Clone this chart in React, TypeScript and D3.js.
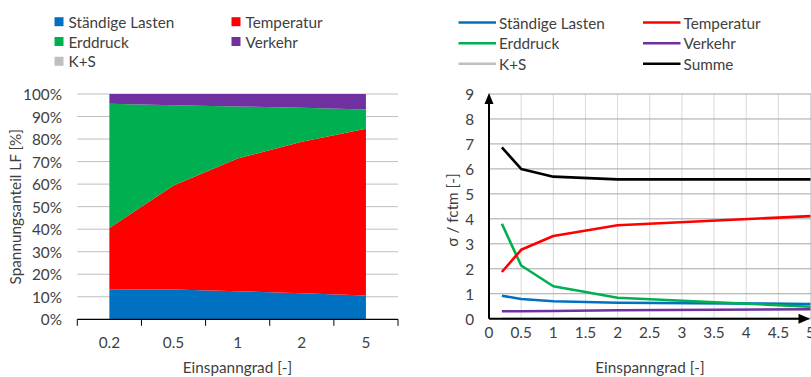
import React from "react";
import * as d3 from "d3";

const categories = ["0.2", "0.5", "1", "2", "5"];
const xValues = [0.2, 0.5, 1, 2, 5];
const staendigeLasten = [0.92, 0.79, 0.7, 0.64, 0.59];
const temperatur = [1.87, 2.76, 3.31, 3.74, 4.11];
const erddruck = [3.8, 2.13, 1.3, 0.84, 0.48];
const verkehr = [0.3, 0.3, 0.31, 0.34, 0.38];
const kUndS = [0, 0, 0, 0, 0];
const summe = [6.86, 6.0, 5.69, 5.58, 5.58];

const leftYTicks = [0, 0.1, 0.2, 0.3, 0.4, 0.5, 0.6, 0.7, 0.8, 0.9, 1.0];
const rightYTicks = [0, 1, 2, 3, 4, 5, 6, 7, 8, 9];
const rightXTicks = [0, 0.5, 1, 1.5, 2, 2.5, 3, 3.5, 4, 4.5, 5];

const seriesNames = ["Ständige Lasten", "Temperatur", "Erddruck", "Verkehr", "K+S"];
const colors = ["#0070C0", "#FF0000", "#00B050", "#7030A0", "#BFBFBF"];

const FONT = "Lato, Calibri, Carlito, sans-serif";
const FS = 15.3;

export default function App() {
  const W = 811, H = 377;
  const seriesData = [staendigeLasten, temperatur, erddruck, verkehr, kUndS];

  // LEFT chart
  const lx = d3.scaleBand<string>().domain(categories).range([77.3, 398]).padding(0);
  const ly = d3.scaleLinear().domain([0, 1]).range([319.3, 94]);
  const rows = categories.map((c, i) => {
    const r: any = { cat: c };
    seriesNames.forEach((n, k) => (r[n] = seriesData[k][i]));
    return r;
  });
  const stack = d3.stack<any>().keys(seriesNames).offset(d3.stackOffsetExpand);
  const stacked = stack(rows);
  const area = d3
    .area<any>()
    .x((d) => (lx(d.data.cat) as number) + lx.bandwidth() / 2)
    .y0((d) => ly(d[0]))
    .y1((d) => ly(d[1]));

  // RIGHT chart
  const rx = d3.scaleLinear().domain([0, 5]).range([489, 810.5]);
  const ry = d3.scaleLinear().domain([0, 9]).range([318.7, 94]);
  const line = d3
    .line<number>()
    .x((_, i) => rx(xValues[i]))
    .y((d) => ry(d));
  const rightSeries = [...seriesData, summe];
  const rightNames = [...seriesNames, "Summe"];
  const rightColors = [...colors, "#000000"];
  const drawOrder = [4, 3, 0, 2, 1, 5];

  const leftLegend = [
    { i: 0, x: 54.5, y: 21.7 },
    { i: 1, x: 231.5, y: 21.7 },
    { i: 2, x: 54.5, y: 41.5 },
    { i: 3, x: 231.5, y: 41.5 },
    { i: 4, x: 54.5, y: 61.3 },
  ];
  const rightLegend = [
    { i: 0, x: 458.5, y: 22.5 },
    { i: 1, x: 643, y: 22.5 },
    { i: 2, x: 458.5, y: 43.2 },
    { i: 3, x: 643, y: 43.2 },
    { i: 4, x: 458.5, y: 63.8 },
    { i: 5, x: 643, y: 63.8 },
  ];

  return (
    <svg width={W} height={H} style={{ position: "absolute", left: 0, top: 0, background: "#fff" }} fontFamily={FONT} fontSize={FS}>
      <rect x={0} y={0} width={W} height={H} fill="#fff" />
      {/* LEFT legend */}
      {leftLegend.map((l) => (
        <g key={"ll" + l.i}>
          <rect x={l.x} y={l.y - 4.5} width={9} height={9} fill={colors[l.i]} />
          <text x={l.x + 14} y={l.y} dominantBaseline="central" fill="#404040">
            {seriesNames[l.i]}
          </text>
        </g>
      ))}
      {/* LEFT grid */}
      {leftYTicks.slice(1).map((t) => (
        <line key={"lg" + t} x1={77.3} x2={398} y1={ly(t)} y2={ly(t)} stroke="#BFBFBF" strokeWidth={1} />
      ))}
      {stacked.map((s, k) => (
        <path key={"a" + k} d={area(s as any) || ""} fill={colors[k]} />
      ))}
      <line x1={77.3} x2={398} y1={ly(0)} y2={ly(0)} stroke="#000" strokeWidth={1.2} />
      {d3.range(categories.length + 1).map((i) => {
        const x = 77.3 + i * lx.bandwidth();
        return <line key={"lt" + i} x1={x} x2={x} y1={ly(0)} y2={ly(0) + 6.5} stroke="#000" strokeWidth={1} />;
      })}
      {leftYTicks.map((t) => (
        <text key={"lyt" + t} x={62} y={ly(t)} textAnchor="end" dominantBaseline="central" fill="#404040">
          {d3.format(".0%")(t)}
        </text>
      ))}
      {categories.map((c) => (
        <text key={"lxt" + c} x={(lx(c) as number) + lx.bandwidth() / 2} y={341.7} textAnchor="middle" dominantBaseline="central" fill="#404040">
          {c}
        </text>
      ))}
      <text x={237.5} y={367.3} textAnchor="middle" dominantBaseline="central" fill="#404040">
        Einspanngrad [-]
      </text>
      <text transform="translate(15,206.7) rotate(-90)" textAnchor="middle" dominantBaseline="central" fill="#404040">
        Spannungsanteil LF [%]
      </text>

      {/* RIGHT legend */}
      {rightLegend.map((l) => (
        <g key={"rl" + l.i}>
          <line x1={l.x} x2={l.x + 37.5} y1={l.y} y2={l.y} stroke={rightColors[l.i]} strokeWidth={2.5} />
          <text x={l.x + 40.5} y={l.y} dominantBaseline="central" fill="#404040">
            {rightNames[l.i]}
          </text>
        </g>
      ))}
      {/* RIGHT grid */}
      {rightXTicks.slice(1).map((t) => (
        <line key={"rvg" + t} x1={rx(t)} x2={rx(t)} y1={ry(9)} y2={ry(0)} stroke="#D9D9D9" strokeWidth={1} />
      ))}
      {rightYTicks.slice(1).map((t) => (
        <line key={"rhg" + t} x1={rx(0)} x2={W} y1={ry(t)} y2={ry(t)} stroke="#A6A6A6" strokeWidth={1} />
      ))}
      {drawOrder.map((k) => (
        <path key={"rl" + k} d={line(rightSeries[k]) || ""} fill="none" stroke={rightColors[k]} strokeWidth={2.6} strokeLinejoin="round" />
      ))}
      {/* axes with arrows */}
      <line x1={rx(0)} x2={rx(0)} y1={ry(0)} y2={ry(9) + 8} stroke="#000" strokeWidth={2} />
      <path d={`M${rx(0)},${ry(9) - 1} L${rx(0) - 4.5},${ry(9) + 10} L${rx(0) + 4.5},${ry(9) + 10} Z`} fill="#000" />
      <line x1={rx(0)} x2={800} y1={ry(0)} y2={ry(0)} stroke="#000" strokeWidth={2} />
      <path d={`M${rx(5) - 0.5},${ry(0)} L${rx(5) - 12},${ry(0) - 5} L${rx(5) - 12},${ry(0) + 5} Z`} fill="#000" />
      {rightYTicks.map((t) => (
        <text key={"ryt" + t} x={474} y={ry(t)} textAnchor="end" dominantBaseline="central" fill="#404040">
          {t}
        </text>
      ))}
      {rightXTicks.map((t) => (
        <text key={"rxt" + t} x={rx(t)} y={331.7} textAnchor="middle" dominantBaseline="central" fill="#404040">
          {String(t)}
        </text>
      ))}
      <text x={650} y={366.7} textAnchor="middle" dominantBaseline="central" fill="#404040">
        Einspanngrad [-]
      </text>
      <text transform="translate(451.7,210) rotate(-90)" textAnchor="middle" dominantBaseline="central" fill="#404040">
        σ / fctm [-]
      </text>
    </svg>
  );
}
